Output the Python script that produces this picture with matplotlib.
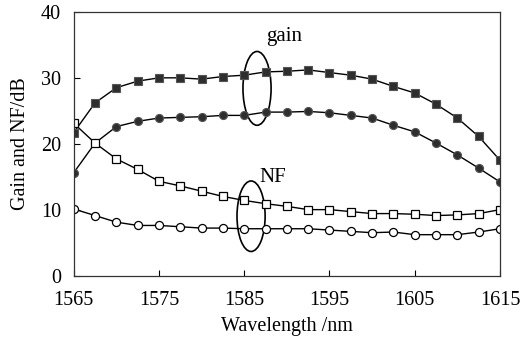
import matplotlib
matplotlib.use('Agg')
import matplotlib.pyplot as plt
from matplotlib.patches import Ellipse

wavelength = [1565 + 2.5 * i for i in range(21)]

# gain, square markers (upper curve)
gain_sq = [21.7, 26.2, 28.5, 29.5, 30.0, 30.0, 29.8, 30.2, 30.4, 30.9, 31.0,
           31.2, 30.8, 30.4, 29.8, 28.7, 27.7, 26.0, 23.9, 21.1, 17.5]
# gain, circle markers (lower curve)
gain_ci = [15.6, 20.1, 22.6, 23.4, 23.9, 24.0, 24.1, 24.3, 24.3, 24.8, 24.8,
           24.9, 24.7, 24.3, 23.9, 22.8, 21.8, 20.1, 18.3, 16.3, 14.2]
# NF, open squares
nf_sq = [23.1, 20.1, 17.7, 16.1, 14.3, 13.6, 12.8, 12.0, 11.4, 10.9, 10.5,
         10.0, 10.0, 9.7, 9.4, 9.4, 9.3, 9.1, 9.2, 9.4, 10.0]
# NF, open circles
nf_ci = [10.1, 9.1, 8.1, 7.6, 7.6, 7.4, 7.2, 7.2, 7.1, 7.1, 7.1,
         7.1, 6.9, 6.7, 6.5, 6.6, 6.2, 6.2, 6.2, 6.6, 7.1]

xticks = [1565, 1575, 1585, 1595, 1605, 1615]
yticks = [0, 10, 20, 30, 40]

plt.rcParams['font.family'] = ['Liberation Serif', 'DejaVu Serif']

fig = plt.figure(figsize=(5.23, 3.41), dpi=100)
ax = fig.add_axes([0.141, 0.192, 0.815, 0.773])

fill = '#2e2e2e'
ax.plot(wavelength, gain_sq, '-s', color='black', lw=1, ms=5.8,
        mfc=fill, mec='#555555', mew=0.8)
ax.plot(wavelength, gain_ci, '-o', color='black', lw=1, ms=5.8,
        mfc=fill, mec='#555555', mew=0.8)
ax.plot(wavelength, nf_sq, '-s', color='black', lw=1, ms=5.8,
        mfc='white', mec='black', mew=0.9)
ax.plot(wavelength, nf_ci, '-o', color='black', lw=1, ms=5.8,
        mfc='white', mec='black', mew=0.9)

# annotation ellipses
ax.add_patch(Ellipse((1586.5, 28.4), 3.3, 11.2, fill=False, ec='black', lw=1.2))
ax.add_patch(Ellipse((1585.8, 9.0), 3.3, 10.7, fill=False, ec='black', lw=1.2))
ax.text(1587.6, 36.3, 'gain', fontsize=15, va='center', ha='left')
ax.text(1586.8, 14.8, 'NF', fontsize=15, va='center', ha='left')

ax.set_xlim(1565, 1615)
ax.set_ylim(0, 40)
ax.set_xticks(xticks)
ax.set_yticks(yticks)
ax.tick_params(direction='in', length=4, width=0.8, labelsize=14.5)
ax.tick_params(axis='x', pad=11)
ax.tick_params(axis='y', pad=9)
for s in ax.spines.values():
    s.set_linewidth(0.9)
    s.set_color('#333333')

ax.set_xlabel('Wavelength /nm', fontsize=14.5, labelpad=5)
ax.set_ylabel('Gain and NF/dB', fontsize=14.5, labelpad=8)

fig.savefig('out.png', dpi=100)
